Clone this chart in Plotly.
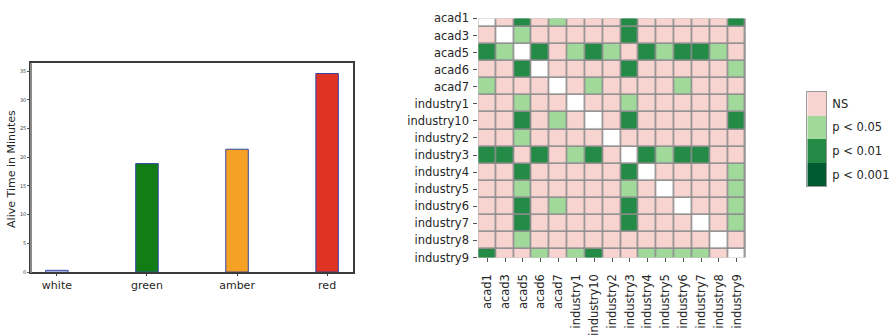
import plotly.graph_objects as go

# ---- bar chart data ----
light_states = ["white", "green", "amber", "red"]
alive_minutes = [0.3, 18.9, 21.4, 34.6]
bar_colors = ["#ffffff", "#117d14", "#f5a124", "#df3424"]
bar_ticks = [0, 5, 10, 15, 20, 25, 30, 35]

# ---- pairwise significance data ----
groups = ["acad1", "acad3", "acad5", "acad6", "acad7", "industry1", "industry10",
          "industry2", "industry3", "industry4", "industry5", "industry6",
          "industry7", "industry8", "industry9"]
# 0 = NS, 1 = p < 0.05, 2 = p < 0.01, 3 = p < 0.001, None = same group
significance = [
    [None, 0, 2, 0, 1, 0, 0, 0, 2, 0, 0, 0, 0, 0, 2],
    [0, None, 1, 0, 0, 0, 0, 0, 2, 0, 0, 0, 0, 0, 0],
    [2, 1, None, 2, 0, 1, 2, 1, 0, 2, 1, 2, 2, 1, 0],
    [0, 0, 2, None, 0, 0, 0, 0, 2, 0, 0, 0, 0, 0, 1],
    [1, 0, 0, 0, None, 0, 1, 0, 0, 0, 0, 1, 0, 0, 0],
    [0, 0, 1, 0, 0, None, 0, 0, 1, 0, 0, 0, 0, 0, 1],
    [0, 0, 2, 0, 1, 0, None, 0, 2, 0, 0, 0, 0, 0, 2],
    [0, 0, 1, 0, 0, 0, 0, None, 0, 0, 0, 0, 0, 0, 0],
    [2, 2, 0, 2, 0, 1, 2, 0, None, 2, 1, 2, 2, 0, 0],
    [0, 0, 2, 0, 0, 0, 0, 0, 2, None, 0, 0, 0, 0, 1],
    [0, 0, 1, 0, 0, 0, 0, 0, 1, 0, None, 0, 0, 0, 1],
    [0, 0, 2, 0, 1, 0, 0, 0, 2, 0, 0, None, 0, 0, 1],
    [0, 0, 2, 0, 0, 0, 0, 0, 2, 0, 0, 0, None, 0, 1],
    [0, 0, 1, 0, 0, 0, 0, 0, 0, 0, 0, 0, 0, None, 0],
    [2, 0, 0, 1, 0, 1, 2, 0, 0, 1, 1, 1, 1, 0, None],
]
level_labels = ["NS", "p < 0.05", "p < 0.01", "p < 0.001"]
level_colors = ["#f8d4d0", "#a1d99b", "#238b45", "#005a32"]
blank_color = "#ffffff"

W, H = 894, 336
FONT = "DejaVu Sans"
TXT = "#262626"


def px_x(a, b):
    return [a / W, b / W]


def px_y(top, bottom):
    return [1 - bottom / H, 1 - top / H]


# discrete colour scale: value 0 = blank diagonal, 1..4 = levels
all_colors = [blank_color] + level_colors
n = len(all_colors)
cscale = []
for i, c in enumerate(all_colors):
    cscale.append([i / n, c])
    cscale.append([(i + 1) / n, c])

z = [[0 if v is None else v + 1 for v in row] for row in significance]

fig = go.Figure()

# bars
fig.add_trace(go.Bar(
    x=light_states, y=alive_minutes, width=0.25,
    marker=dict(color=bar_colors, line=dict(color="#3346a8", width=1)),
    xaxis="x", yaxis="y", showlegend=False,
))

# significance heatmap
fig.add_trace(go.Heatmap(
    z=z, x=groups, y=groups, colorscale=cscale, zmin=-0.5, zmax=n - 0.5,
    showscale=False, xgap=1.6, ygap=1.6, xaxis="x2", yaxis="y2",
    hoverinfo="skip",
))

# level key
fig.add_trace(go.Heatmap(
    z=[[i + 1] for i in range(len(level_labels))],
    x=[0], y=list(range(len(level_labels))),
    colorscale=cscale, zmin=-0.5, zmax=n - 0.5, showscale=False,
    xaxis="x3", yaxis="y3", hoverinfo="skip",
))

fig.update_layout(
    width=W, height=H, margin=dict(l=0, r=0, t=0, b=0),
    paper_bgcolor="white", plot_bgcolor="white",
    font=dict(family=FONT, color=TXT),
    xaxis=dict(
        domain=px_x(31, 353), range=[-0.2875, 3.2875], type="category",
        showline=True, linecolor="#3a3a3a", linewidth=1.5, mirror=True,
        ticks="outside", ticklen=2, tickcolor="#3a3a3a",
        tickfont=dict(size=11, color=TXT), showgrid=False, zeroline=False,
        anchor="y",
    ),
    yaxis=dict(
        domain=px_y(59, 278.3), range=[0, 36.4],
        tickvals=bar_ticks, ticks="outside", ticklen=2, tickcolor="#555",
        tickfont=dict(size=5, color="#444"),
        showline=True, linecolor="#3a3a3a", linewidth=1.5, mirror=True,
        showgrid=False, zeroline=False, anchor="x",
    ),
    xaxis2=dict(
        domain=px_x(478.3, 745.7), range=[-0.5, 14.5], type="category",
        tickangle=-90, ticks="outside", ticklen=4, tickcolor="#555",
        ticklabelstandoff=7,
        tickfont=dict(size=11.5, color=TXT), showgrid=False, zeroline=False,
        showline=False, anchor="y2",
    ),
    yaxis2=dict(
        domain=px_y(12, 263), range=[14, 0], type="category",
        ticks="outside", ticklen=4, tickcolor="#555",
        ticklabelstandoff=2,
        tickfont=dict(size=11.5, color=TXT), showgrid=False, zeroline=False,
        showline=False, anchor="x2",
    ),
    xaxis3=dict(
        domain=px_x(807.3, 826), range=[-0.5, 0.5], showticklabels=False,
        ticks="", showgrid=False, zeroline=False,
        showline=True, linecolor="#9a9a9a", linewidth=1, mirror=True,
        anchor="y3",
    ),
    yaxis3=dict(
        domain=px_y(89, 188.3), range=[3.5, -0.5],
        tickvals=list(range(len(level_labels))), ticktext=level_labels,
        side="right", ticks="", tickfont=dict(size=11.5, color=TXT),
        ticklabelstandoff=3,
        showgrid=False, zeroline=False,
        showline=True, linecolor="#9a9a9a", linewidth=1, mirror=True,
        anchor="x3",
    ),
    annotations=[dict(
        text="Alive Time in Minutes", textangle=-90,
        x=12 / W, y=1 - 170 / H, xref="paper", yref="paper",
        xanchor="center", yanchor="middle",
        showarrow=False, font=dict(size=11, color=TXT),
    )],
    shapes=[
        # cell borders behind the heatmap
        dict(type="rect", xref="x2 domain", yref="y2 domain",
             x0=0, x1=1, y0=0, y1=1, fillcolor="#8e8e8e",
             line=dict(width=0), layer="below"),
        # lighter left spine of the bar panel
        dict(type="line", xref="paper", yref="paper",
             x0=31 / W, x1=31 / W, y0=1 - 279 / H, y1=1 - 59 / H,
             line=dict(color="#8a8a8a", width=2)),
    ],
)

fig.write_html("out.html")
